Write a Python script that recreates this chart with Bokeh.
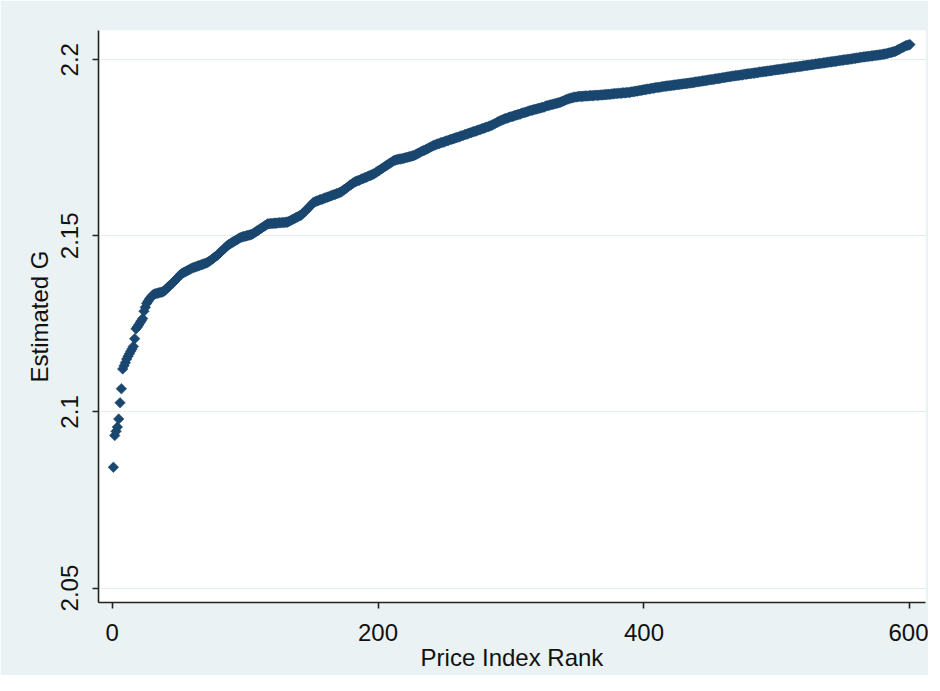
import math
from bokeh.plotting import figure
from bokeh.models import ColumnDataSource, FixedTicker, Range1d
from bokeh.embed import file_html
from bokeh.resources import INLINE

# Data: estimated G, sorted by price index rank (1..600)
estimated_g = [
    2.0843, 2.0933, 2.0945, 2.0957, 2.0980, 2.1026, 2.1066, 2.1122, 2.1131, 2.1140,
    2.1150, 2.1158, 2.1165, 2.1172, 2.1179, 2.1186, 2.1208, 2.1236, 2.1241, 2.1247,
    2.1253, 2.1259, 2.1265, 2.1286, 2.1297, 2.1308, 2.1314, 2.1320, 2.1325, 2.1329,
    2.1333, 2.1335, 2.1336, 2.1337, 2.1338, 2.1339, 2.1340, 2.1341, 2.1343, 2.1346,
    2.1350, 2.1354, 2.1358, 2.1361, 2.1364, 2.1368, 2.1372, 2.1376, 2.1380, 2.1384,
    2.1388, 2.1392, 2.1394, 2.1396, 2.1398, 2.1400, 2.1402, 2.1404, 2.1406, 2.1408,
    2.1410, 2.1411, 2.1412, 2.1414, 2.1415, 2.1416, 2.1418, 2.1419, 2.1420, 2.1422,
    2.1423, 2.1425, 2.1428, 2.1430, 2.1433, 2.1436, 2.1439, 2.1442, 2.1444, 2.1448,
    2.1452, 2.1455, 2.1459, 2.1462, 2.1466, 2.1470, 2.1473, 2.1476, 2.1478, 2.1480,
    2.1483, 2.1485, 2.1487, 2.1489, 2.1492, 2.1494, 2.1496, 2.1497, 2.1498, 2.1499,
    2.1500, 2.1501, 2.1502, 2.1503, 2.1504, 2.1506, 2.1509, 2.1511, 2.1514, 2.1516,
    2.1519, 2.1521, 2.1524, 2.1526, 2.1529, 2.1531, 2.1534, 2.1534, 2.1535, 2.1535,
    2.1535, 2.1536, 2.1536, 2.1536, 2.1537, 2.1537, 2.1537, 2.1538, 2.1538, 2.1538,
    2.1539, 2.1539, 2.1541, 2.1543, 2.1545, 2.1547, 2.1549, 2.1551, 2.1553, 2.1555,
    2.1557, 2.1558, 2.1562, 2.1566, 2.1570, 2.1573, 2.1577, 2.1581, 2.1585, 2.1589,
    2.1593, 2.1596, 2.1597, 2.1599, 2.1600, 2.1602, 2.1603, 2.1604, 2.1606, 2.1607,
    2.1609, 2.1610, 2.1611, 2.1613, 2.1614, 2.1616, 2.1617, 2.1618, 2.1620, 2.1621,
    2.1623, 2.1624, 2.1627, 2.1630, 2.1632, 2.1635, 2.1638, 2.1641, 2.1644, 2.1646,
    2.1649, 2.1652, 2.1654, 2.1655, 2.1657, 2.1658, 2.1660, 2.1662, 2.1663, 2.1665,
    2.1666, 2.1668, 2.1670, 2.1671, 2.1673, 2.1674, 2.1676, 2.1679, 2.1681, 2.1684,
    2.1686, 2.1689, 2.1691, 2.1694, 2.1696, 2.1699, 2.1701, 2.1704, 2.1706, 2.1709,
    2.1711, 2.1714, 2.1715, 2.1716, 2.1717, 2.1718, 2.1718, 2.1719, 2.1720, 2.1721,
    2.1722, 2.1723, 2.1724, 2.1725, 2.1726, 2.1727, 2.1728, 2.1730, 2.1732, 2.1734,
    2.1736, 2.1738, 2.1740, 2.1742, 2.1743, 2.1745, 2.1747, 2.1749, 2.1751, 2.1753,
    2.1755, 2.1757, 2.1758, 2.1760, 2.1761, 2.1762, 2.1764, 2.1765, 2.1766, 2.1767,
    2.1769, 2.1770, 2.1771, 2.1773, 2.1774, 2.1775, 2.1776, 2.1778, 2.1779, 2.1780,
    2.1781, 2.1783, 2.1784, 2.1785, 2.1787, 2.1788, 2.1789, 2.1791, 2.1792, 2.1793,
    2.1795, 2.1796, 2.1797, 2.1798, 2.1800, 2.1801, 2.1802, 2.1804, 2.1805, 2.1806,
    2.1808, 2.1809, 2.1810, 2.1812, 2.1813, 2.1815, 2.1817, 2.1819, 2.1821, 2.1823,
    2.1825, 2.1827, 2.1828, 2.1830, 2.1832, 2.1833, 2.1834, 2.1836, 2.1837, 2.1838,
    2.1839, 2.1840, 2.1842, 2.1843, 2.1844, 2.1845, 2.1846, 2.1848, 2.1849, 2.1850,
    2.1851, 2.1852, 2.1854, 2.1855, 2.1856, 2.1857, 2.1858, 2.1859, 2.1860, 2.1861,
    2.1862, 2.1863, 2.1864, 2.1865, 2.1866, 2.1868, 2.1869, 2.1870, 2.1871, 2.1872,
    2.1873, 2.1874, 2.1875, 2.1876, 2.1877, 2.1878, 2.1879, 2.1881, 2.1882, 2.1884,
    2.1886, 2.1887, 2.1889, 2.1890, 2.1891, 2.1892, 2.1893, 2.1894, 2.1894, 2.1895,
    2.1896, 2.1896, 2.1896, 2.1896, 2.1897, 2.1897, 2.1897, 2.1897, 2.1898, 2.1898,
    2.1898, 2.1898, 2.1899, 2.1899, 2.1899, 2.1899, 2.1900, 2.1900, 2.1900, 2.1901,
    2.1901, 2.1901, 2.1902, 2.1902, 2.1902, 2.1903, 2.1903, 2.1904, 2.1904, 2.1904,
    2.1905, 2.1905, 2.1905, 2.1906, 2.1906, 2.1906, 2.1907, 2.1907, 2.1907, 2.1908,
    2.1909, 2.1909, 2.1910, 2.1911, 2.1911, 2.1912, 2.1913, 2.1913, 2.1914, 2.1915,
    2.1915, 2.1916, 2.1917, 2.1917, 2.1918, 2.1919, 2.1919, 2.1920, 2.1921, 2.1921,
    2.1922, 2.1922, 2.1923, 2.1924, 2.1924, 2.1925, 2.1925, 2.1926, 2.1926, 2.1927,
    2.1927, 2.1928, 2.1928, 2.1929, 2.1929, 2.1930, 2.1930, 2.1931, 2.1931, 2.1932,
    2.1932, 2.1933, 2.1933, 2.1934, 2.1934, 2.1935, 2.1935, 2.1936, 2.1937, 2.1937,
    2.1938, 2.1938, 2.1939, 2.1940, 2.1940, 2.1941, 2.1941, 2.1942, 2.1943, 2.1943,
    2.1944, 2.1944, 2.1945, 2.1946, 2.1946, 2.1947, 2.1947, 2.1948, 2.1949, 2.1949,
    2.1950, 2.1951, 2.1951, 2.1952, 2.1952, 2.1953, 2.1954, 2.1954, 2.1955, 2.1955,
    2.1956, 2.1956, 2.1957, 2.1957, 2.1958, 2.1959, 2.1959, 2.1960, 2.1960, 2.1961,
    2.1961, 2.1962, 2.1962, 2.1963, 2.1963, 2.1964, 2.1965, 2.1965, 2.1966, 2.1966,
    2.1967, 2.1967, 2.1968, 2.1968, 2.1969, 2.1969, 2.1970, 2.1971, 2.1971, 2.1972,
    2.1972, 2.1973, 2.1973, 2.1974, 2.1974, 2.1975, 2.1975, 2.1976, 2.1977, 2.1977,
    2.1978, 2.1978, 2.1979, 2.1979, 2.1980, 2.1980, 2.1981, 2.1981, 2.1982, 2.1983,
    2.1983, 2.1984, 2.1984, 2.1985, 2.1985, 2.1986, 2.1986, 2.1987, 2.1988, 2.1988,
    2.1989, 2.1989, 2.1990, 2.1990, 2.1991, 2.1991, 2.1992, 2.1993, 2.1993, 2.1994,
    2.1994, 2.1995, 2.1995, 2.1996, 2.1996, 2.1997, 2.1998, 2.1998, 2.1999, 2.1999,
    2.2000, 2.2000, 2.2001, 2.2001, 2.2002, 2.2002, 2.2003, 2.2004, 2.2004, 2.2005,
    2.2005, 2.2006, 2.2007, 2.2007, 2.2008, 2.2008, 2.2009, 2.2009, 2.2010, 2.2010,
    2.2011, 2.2011, 2.2012, 2.2012, 2.2013, 2.2013, 2.2014, 2.2014, 2.2015, 2.2016,
    2.2016, 2.2017, 2.2018, 2.2019, 2.2020, 2.2021, 2.2022, 2.2023, 2.2024, 2.2026,
    2.2028, 2.2030, 2.2032, 2.2034, 2.2036, 2.2038, 2.2040, 2.2041, 2.2042, 2.2043,
]
price_index_rank = list(range(1, len(estimated_g) + 1))

x_ticks = [0, 200, 400, 600]
y_ticks = [2.05, 2.1, 2.15, 2.2]
y_tick_labels = {2.05: "2.05", 2.1: "2.1", 2.15: "2.15", 2.2: "2.2"}

BG = "#EAF2F3"
NAVY = "#1A476F"
FONT = "Liberation Sans"

source = ColumnDataSource(data=dict(rank=price_index_rank, g=estimated_g))

p = figure(
    width=928, height=675,
    output_backend="svg", toolbar_location=None,
    x_range=Range1d(-10.2, 611.7), y_range=Range1d(2.0459, 2.2083),
    min_border_left=98, min_border_top=30, min_border_right=3, min_border_bottom=73,
)
p.background_fill_color = "white"
p.border_fill_color = BG
p.outline_line_color = None

p.scatter("rank", "g", source=source, marker="square", size=7.5, angle=math.pi / 4,
          fill_color=NAVY, line_color=NAVY, line_width=0.5)

# grid
p.xgrid.grid_line_color = None
p.ygrid.grid_line_color = "#E3ECEE"
p.ygrid.grid_line_width = 1.2
p.ygrid.ticker = FixedTicker(ticks=y_ticks)

# axes
for ax in (p.xaxis[0], p.yaxis[0]):
    ax.axis_line_color = "#222222"
    ax.axis_line_width = 1.6
    ax.major_tick_line_color = "#222222"
    ax.major_tick_line_width = 1.6
    ax.major_tick_out = 6
    ax.major_tick_in = 0
    ax.minor_tick_line_color = None
    ax.major_label_text_font = FONT
    ax.major_label_text_font_size = "24px"
    ax.major_label_text_color = "#111111"
    ax.axis_label_text_font = FONT
    ax.axis_label_text_font_size = "24px"
    ax.axis_label_text_font_style = "normal"
    ax.axis_label_text_color = "#111111"

p.xaxis.ticker = FixedTicker(ticks=x_ticks)
p.xaxis.axis_label = "Price Index Rank"
p.xaxis.major_label_standoff = 15
p.xaxis.axis_label_standoff = 0

p.yaxis.ticker = FixedTicker(ticks=y_ticks)
p.yaxis.major_label_overrides = y_tick_labels
p.yaxis.major_label_orientation = "vertical"
p.yaxis.axis_label = "Estimated G"
p.yaxis.major_label_standoff = 14
p.yaxis.axis_label_standoff = 6

open("out.html", "w").write(file_html(p, INLINE))
